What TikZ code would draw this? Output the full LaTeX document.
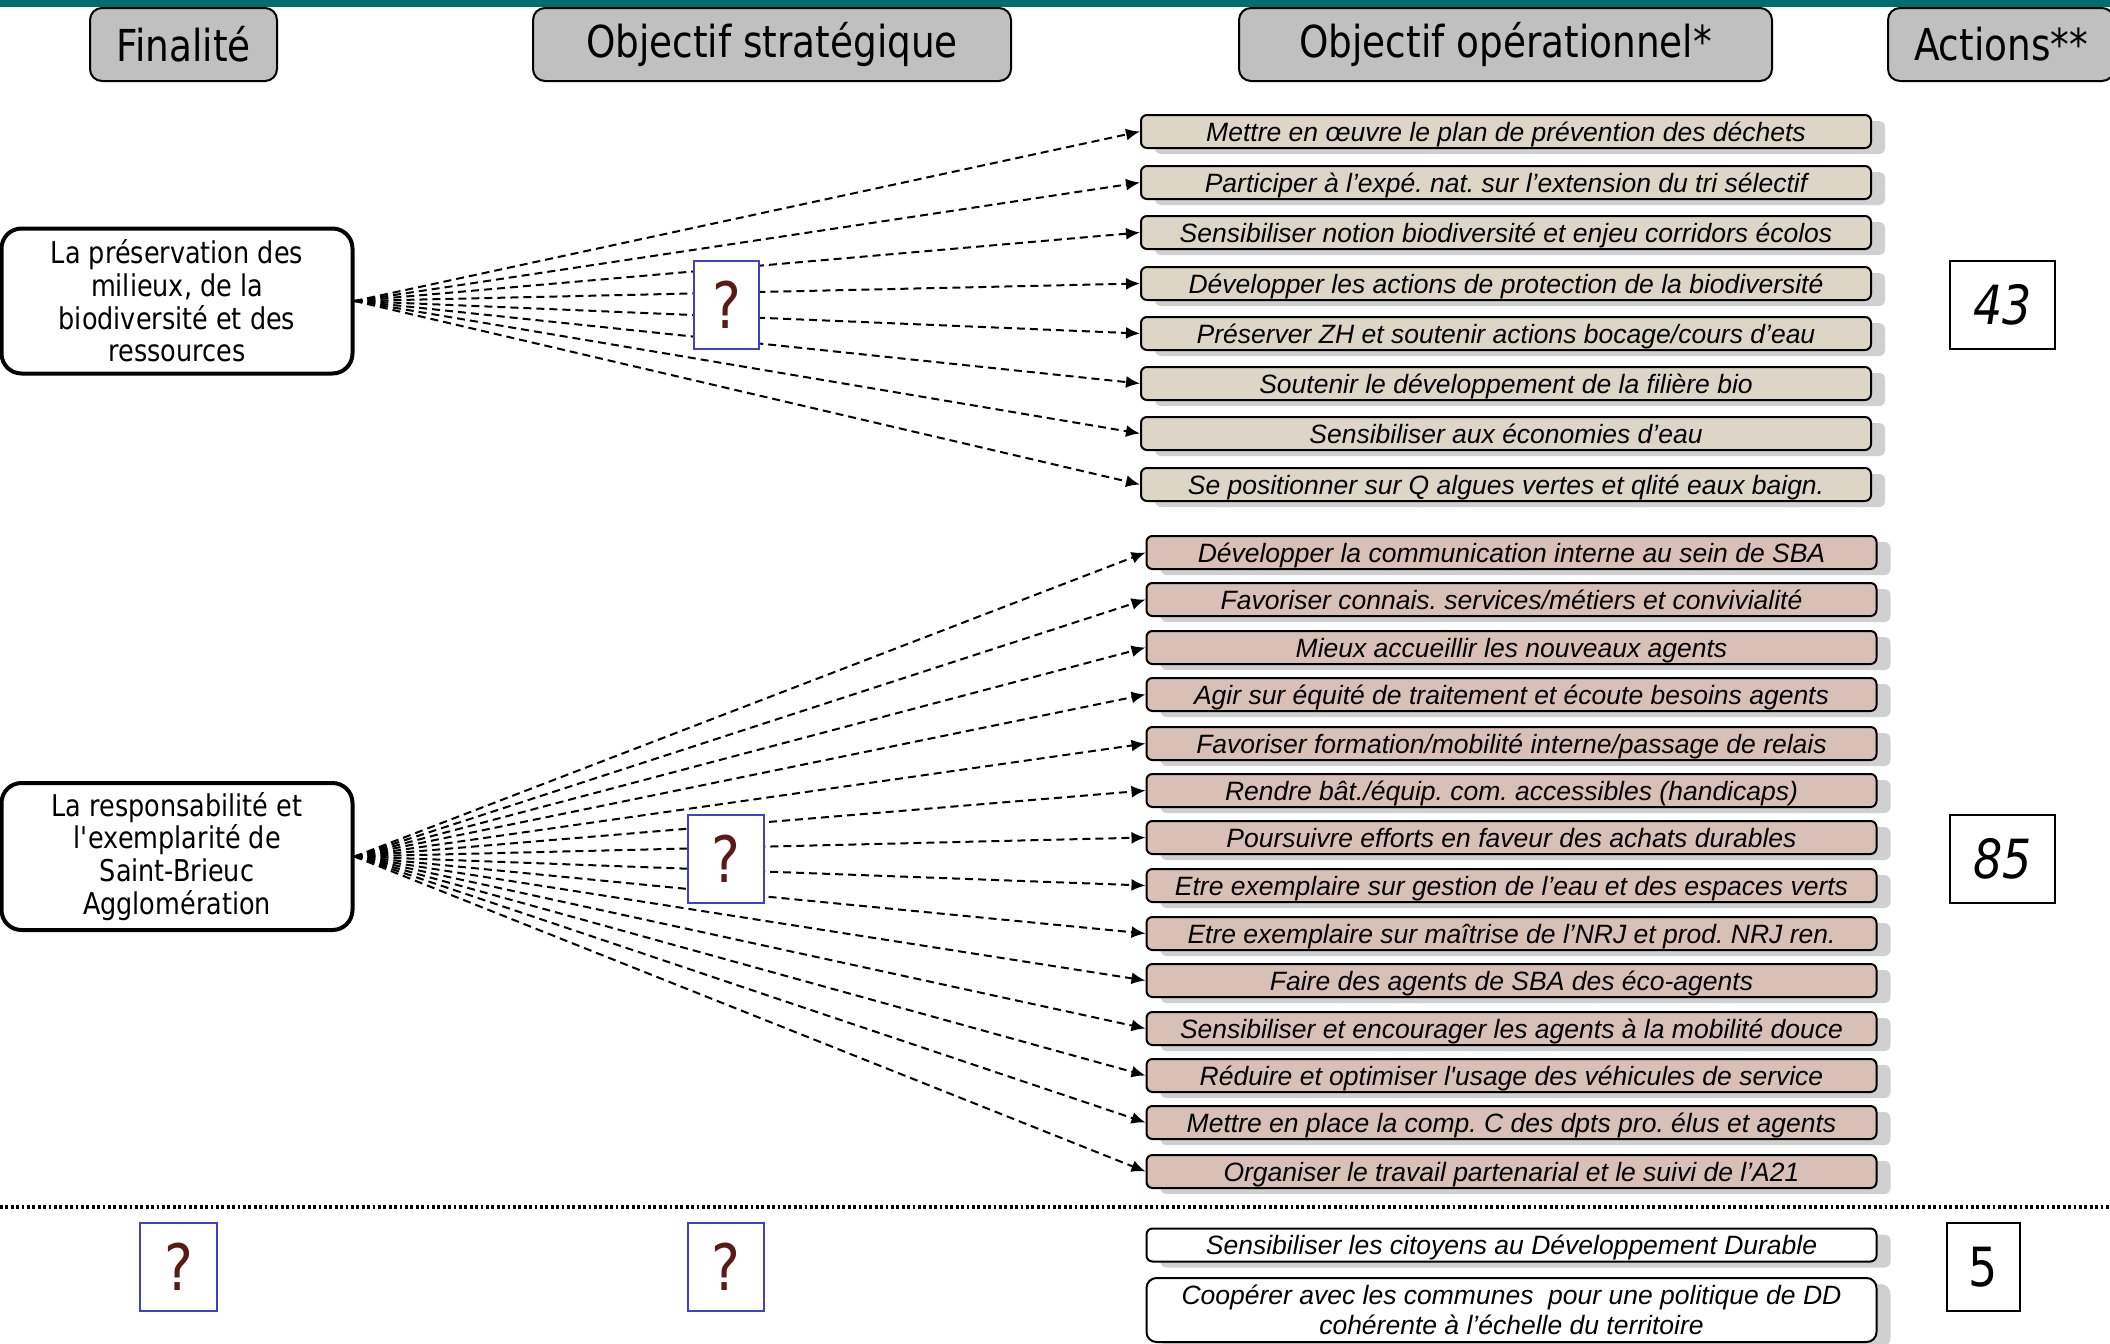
\documentclass[tikz,border=0pt]{standalone}
\usepackage{fontspec}
\setmainfont{Liberation Sans}
\newfontfamily\headfont[FakeStretch=0.85]{DejaVu Sans}
\usetikzlibrary{arrows.meta,shadows}
\frenchspacing

\definecolor{barteal}{RGB}{0,110,108}
\definecolor{headgray}{RGB}{192,192,192}
\definecolor{beigeobj}{RGB}{221,214,198}
\definecolor{pinkobj}{RGB}{217,192,182}
\definecolor{qblue}{RGB}{64,64,208}
\definecolor{qred}{RGB}{90,26,22}
\definecolor{shadowgray}{RGB}{208,208,208}

\tikzset{every picture/.style={line width=0.75pt}}
\tikzset{
  header/.style={draw,fill=headgray,rounded corners=6pt,line width=1pt,minimum height=36.5pt,inner sep=0pt,font=\headfont\fontsize{22}{24}\selectfont},
  finalite/.style={draw,fill=white,rounded corners=10pt,line width=2pt,minimum width=175.5pt,minimum height=72.5pt,inner sep=0pt,align=center,font=\headfont\fontsize{15}{16.4}\selectfont},
  qbox/.style={draw=qblue,fill=white,line width=1pt,minimum height=44pt,inner sep=0pt,text=qred,font=\headfont\fontsize{32}{34}\selectfont},
  nbbox/.style={draw,fill=white,line width=1pt,minimum height=44pt,inner sep=0pt,font=\headfont\fontsize{27}{30}\selectfont},
  objop/.style={draw,rounded corners=3pt,line width=1pt,minimum width=365pt,minimum height=16.5pt,inner sep=0pt,font=\fontsize{13.25}{15}\selectfont\itshape,drop shadow={shadow xshift=7pt,shadow yshift=-3pt,fill=shadowgray,opacity=1}},
  objline/.style={objop,text height=11.6pt,text depth=2pt},
  objbeige/.style={objline,fill=beigeobj},
  objpink/.style={objline,fill=pinkobj},
  lien/.style={line width=1pt,dash pattern=on 4pt off 2.5pt,-{Latex[length=7pt,width=6pt]}}
}

\begin{document}
\begin{tikzpicture}[x=0.5pt,y=0.5pt,yscale=-1,xscale=1]
\useasboundingbox (0,0) rectangle (2110,1344);

%Top bar
\fill[barteal] (0,0) rectangle (2110,7);

%Column headers
\node[header,minimum width=93.5pt] (hfin) at (183.5,44.5) {Finalité};
\node[header,minimum width=239pt] (hstrat) at (772,44.5) {Objectif stratégique};
\node[header,minimum width=266.5pt] (hop) at (1505.5,44.5) {Objectif opérationnel*};
\node[header,minimum width=113pt] (hact) at (2001,44.5) {Actions**};

%Finalites
\node[finalite] (fin1) at (177,301) {La préservation des\\milieux, de la\\biodiversité et des\\ressources};
\node[finalite,minimum height=73.5pt] (fin2) at (177,856.5) {La responsabilité et\\l\textquotesingle exemplarité de\\Saint-Brieuc\\Agglomération};

%Objectifs operationnels, finalite 1
\node[objbeige] (op1) at (1506,131.5) {Mettre en œuvre le plan de prévention des déchets};
\node[objbeige] (op2) at (1506,182.5) {Participer à l’expé. nat. sur l’extension du tri sélectif};
\node[objbeige] (op3) at (1506,232.5) {Sensibiliser notion biodiversité et enjeu corridors écolos};
\node[objbeige] (op4) at (1506,283.5) {Développer les actions de protection de la biodiversité};
\node[objbeige] (op5) at (1506,333.5) {Préserver ZH et soutenir actions bocage/cours d’eau};
\node[objbeige] (op6) at (1506,383.5) {Soutenir le développement de la filière bio};
\node[objbeige] (op7) at (1506,433.5) {Sensibiliser aux économies d’eau};
\node[objbeige] (op8) at (1506,484.5) {Se positionner sur Q algues vertes et qlité eaux baign.};

%Objectifs operationnels, finalite 2
\node[objpink] (or1) at (1511.5,552.5) {Développer la communication interne au sein de SBA};
\node[objpink] (or2) at (1511.5,599.5) {Favoriser connais. services/métiers et convivialité};
\node[objpink] (or3) at (1511.5,647.5) {Mieux accueillir les nouveaux agents};
\node[objpink] (or4) at (1511.5,694.5) {Agir sur équité de traitement et écoute besoins agents};
\node[objpink] (or5) at (1511.5,743.5) {Favoriser formation/mobilité interne/passage de relais};
\node[objpink] (or6) at (1511.5,790.5) {Rendre bât./équip. com. accessibles (handicaps)};
\node[objpink] (or7) at (1511.5,837.5) {Poursuivre efforts en faveur des achats durables};
\node[objpink] (or8) at (1511.5,885.5) {Etre exemplaire sur gestion de l’eau et des espaces verts};
\node[objpink] (or9) at (1511.5,933.5) {Etre exemplaire sur maîtrise de l’NRJ et prod. NRJ ren.};
\node[objpink] (or10) at (1511.5,980.5) {Faire des agents de SBA des éco-agents};
\node[objpink] (or11) at (1511.5,1028.5) {Sensibiliser et encourager les agents à la mobilité douce};
\node[objpink] (or12) at (1511.5,1075.5) {Réduire et optimiser l\textquotesingle usage des véhicules de service};
\node[objpink] (or13) at (1511.5,1122.5) {Mettre en place la comp. C des dpts pro. élus et agents};
\node[objpink] (or14) at (1511.5,1171.5) {Organiser le travail partenarial et le suivi de l’A21};

%Liens finalite 1
\draw[lien] (fin1.east) -- (op1.west);
\draw[lien] (fin1.east) -- (op2.west);
\draw[lien] (fin1.east) -- (op3.west);
\draw[lien] (fin1.east) -- (op4.west);
\draw[lien] (fin1.east) -- (op5.west);
\draw[lien] (fin1.east) -- (op6.west);
\draw[lien] (fin1.east) -- (op7.west);
\draw[lien] (fin1.east) -- (op8.west);

%Liens finalite 2
\draw[lien] (fin2.east) -- (or1.west);
\draw[lien] (fin2.east) -- (or2.west);
\draw[lien] (fin2.east) -- (or3.west);
\draw[lien] (fin2.east) -- (or4.west);
\draw[lien] (fin2.east) -- (or5.west);
\draw[lien] (fin2.east) -- (or6.west);
\draw[lien] (fin2.east) -- (or7.west);
\draw[lien] (fin2.east) -- (or8.west);
\draw[lien] (fin2.east) -- (or9.west);
\draw[lien] (fin2.east) -- (or10.west);
\draw[lien] (fin2.east) -- (or11.west);
\draw[lien] (fin2.east) -- (or12.west);
\draw[lien] (fin2.east) -- (or13.west);
\draw[lien] (fin2.east) -- (or14.west);

%Objectifs strategiques inconnus
\node[qbox,minimum width=32.5pt] (strat1) at (726.5,305) {?};
\node[qbox,minimum width=38pt] (strat2) at (726,859) {?};

%Nombre d'actions
\node[nbbox,minimum width=52.5pt] (nb1) at (2002.5,305) {\itshape 43};
\node[nbbox,minimum width=52.5pt] (nb2) at (2002.5,859) {\itshape 85};

%Separation
\draw[line width=2pt,dash pattern=on 1.4pt off 1.3pt] (0,1207) -- (2110,1207);

%Partie basse
\node[qbox,minimum width=38.5pt] (fin3) at (178.5,1267) {?};
\node[qbox,minimum width=38pt] (strat3) at (726,1267) {?};
\node[objline,fill=white] (ob1) at (1511.5,1245) {Sensibiliser les citoyens au Développement Durable};
\node[objop,fill=white,rounded corners=5pt,minimum height=32pt,align=center] (ob2) at (1511.5,1310) {Coopérer avec les communes\ \ pour une politique de DD\\cohérente à l’échelle du territoire};
\node[nbbox,minimum width=36.5pt] (nb3) at (1983.5,1267) {5};

\end{tikzpicture}
\end{document}
